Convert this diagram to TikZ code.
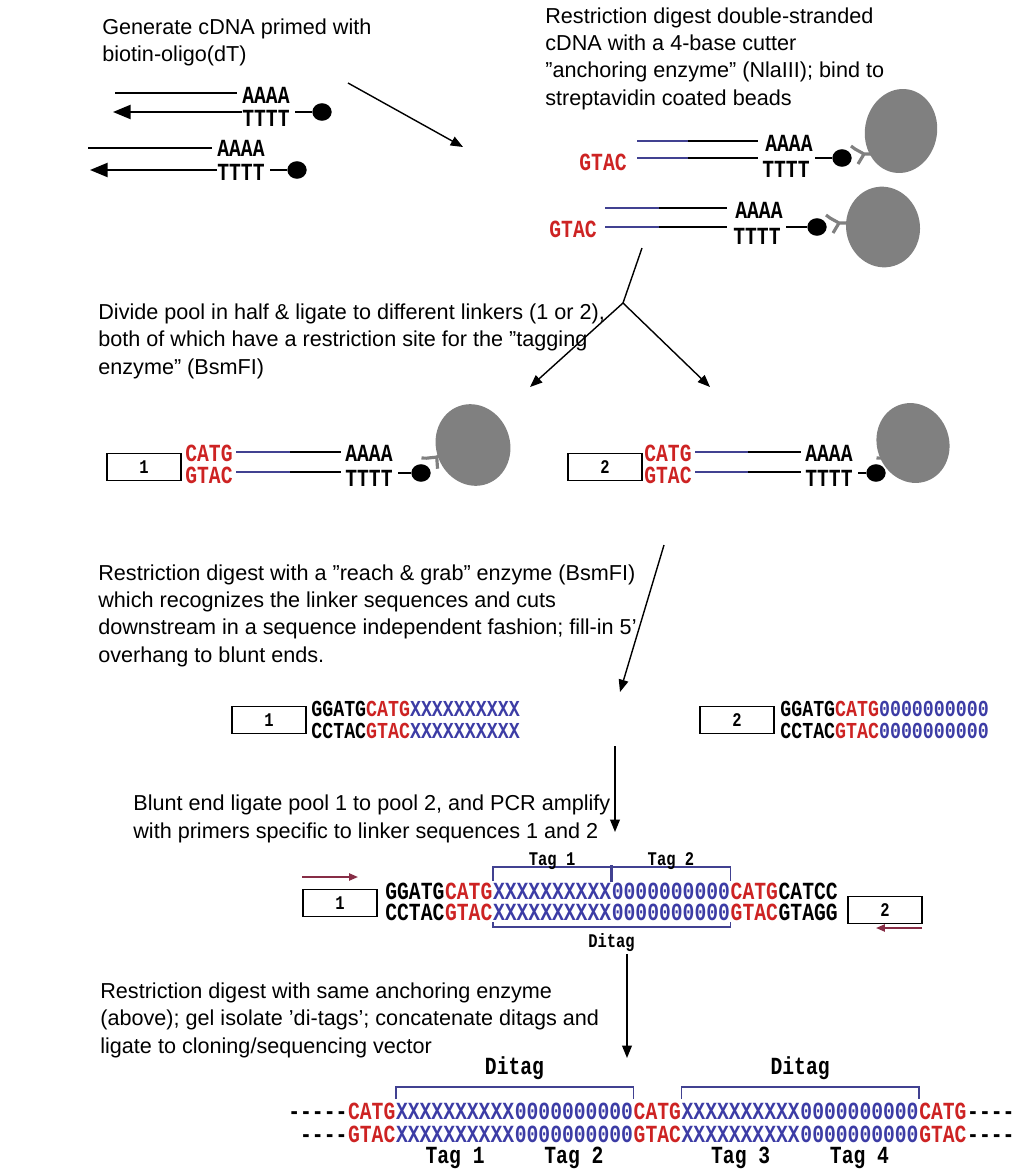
\documentclass[tikz,border=0pt]{standalone}
\usepackage{fontspec}
\setmainfont{Liberation Sans}
\newfontfamily\seqfont{Liberation Mono}[FakeStretch=0.8]
\usetikzlibrary{arrows.meta,positioning,shapes.geometric}

\definecolor{seqred}{RGB}{205,35,35}
\definecolor{seqblue}{RGB}{60,60,165}
\definecolor{linkblue}{RGB}{65,65,145}
\definecolor{beadgray}{RGB}{128,128,128}
\definecolor{primerred}{RGB}{135,45,70}

\newcommand{\seqdash}{-\kern0pt}

\tikzset{
  steptext/.style={anchor=base west,align=left,inner sep=0pt,
    font=\fontsize{12.3}{15.4}\selectfont},
  seq/.style={anchor=west,inner sep=0pt,text height=9.2pt,text depth=0pt,
    font=\seqfont\bfseries\fontsize{14}{14}\selectfont},
  seqsmall/.style={seq,text height=8.6pt,font=\seqfont\bfseries\fontsize{13}{13}\selectfont},
  taglabel/.style={inner sep=0pt,font=\seqfont\bfseries\fontsize{14}{14}\selectfont},
  smalllabel/.style={inner sep=0pt,font=\seqfont\bfseries\fontsize{11}{11}\selectfont},
  linkerbox/.style={draw,line width=0.7pt,minimum width=42pt,minimum height=15.5pt,
    inner sep=0pt,font=\seqfont\bfseries\fontsize{11}{11}\selectfont},
  biotin/.style={ellipse,fill=black,minimum width=11pt,minimum height=10pt,inner sep=0pt},
  bead/.style={ellipse,fill=beadgray,inner sep=0pt},
  strand/.style={line width=1.1pt},
  bluestrand/.style={line width=1.1pt,linkblue},
  flow/.style={line width=0.8pt,-{Triangle[length=7pt,width=5.5pt]}},
  bracket/.style={line width=0.9pt,linkblue},
  primer/.style={line width=1pt,primerred,-{Triangle[length=5pt,width=4pt]}},
  pics/antibody/.style={code={
    \draw[beadgray,line width=1.8pt,line join=round]
      (9,-12) -- (13,-9) -- (22,-4) -- (36,-4)
      (22,-4) -- (16,6);}}
}

\begin{document}
\begin{tikzpicture}[x=0.2mm,y=-0.2mm]
  \useasboundingbox (0,0) rectangle (1016,1169);

  % step descriptions (placed by the baseline of their last line)
  \node[steptext] (txt1) at (102,62) {Generate cDNA primed with\\biotin-oligo(dT)};
  \node[steptext] (txt2) at (545,105) {Restriction digest double-stranded\\cDNA with a 4-base cutter\\"anchoring enzyme" (NlaIII); bind to\\streptavidin coated beads};
  \node[steptext] (txt3) at (98,374) {Divide pool in half \& ligate to different linkers (1 or 2),\\both of which have a restriction site for the "tagging\\enzyme" (BsmFI)};
  \node[steptext] (txt4) at (98,662) {Restriction digest with a "reach \& grab" enzyme (BsmFI)\\which recognizes the linker sequences and cuts\\downstream in a sequence independent fashion; fill-in 5'\\overhang to blunt ends.};
  \node[steptext] (txt5) at (133,838) {Blunt end ligate pool 1 to pool 2, and PCR amplify\\with primers specific to linker sequences 1 and 2};
  \node[steptext] (txt6) at (100,1053) {Restriction digest with same anchoring enzyme\\(above); gel isolate 'di-tags'; concatenate ditags and\\ligate to cloning/sequencing vector};

  % cDNA with biotin-oligo(dT)
  \node[seq] (a1) at (242,95) {AAAA};
  \node[seq] (t1) at (242,118) {TTTT};
  \node[biotin] (d1) at (322,112) {};
  \coordinate (e1) at (115,93);
  \coordinate (e2) at (113,112);
  \draw[strand,shorten >=3pt] (e1) -- (e1 -| a1.west);
  \draw[strand,-{Triangle[length=10pt,width=8pt]}] (e2 -| t1.west) -- (e2);
  \draw[strand,shorten <=3pt] (t1.east |- d1) -- (d1);

  \node[seq] (a2) at (217,148) {AAAA};
  \node[seq] (t2) at (217,172) {TTTT};
  \node[biotin] (d2) at (297,170) {};
  \coordinate (e3) at (88,148);
  \coordinate (e4) at (90,170);
  \draw[strand,shorten >=3pt] (e3) -- (e3 -| a2.west);
  \draw[strand,-{Triangle[length=10pt,width=8pt]}] (e4 -| t2.west) -- (e4);
  \draw[strand,shorten <=3pt] (t2.east |- d2) -- (d2);

  \coordinate (f1) at (348,83);
  \coordinate (f2) at (463,147);
  \draw[flow] (f1) -- (f2);

  % digested cDNA on beads
  \node[seq,text=seqred,anchor=east] (g3) at (627,162) {GTAC};
  \node[seq] (a3) at (765,143) {AAAA};
  \node[seq] (t3) at (762,169) {TTTT};
  \node[biotin] (d3) at (842,158) {};
  \draw[bluestrand] (637,141) -- (688,141);
  \draw[strand] (688,141) -- (758,141);
  \draw[bluestrand] (637,158) -- (688,158);
  \draw[strand] (688,158) -- (758,158);
  \draw[strand,shorten <=3pt] (t3.east |- d3) -- (d3);
  \pic at (d3) {antibody};
  \node[bead,minimum width=41pt,minimum height=48pt,rotate=-10] (b3) at (901,131) {};

  \node[seq,text=seqred,anchor=east] (g4) at (597,229) {GTAC};
  \node[seq] (a4) at (735,210) {AAAA};
  \node[seq] (t4) at (733,236) {TTTT};
  \node[biotin] (d4) at (817,227) {};
  \draw[bluestrand] (605,208) -- (659,208);
  \draw[strand] (659,208) -- (727,208);
  \draw[bluestrand] (605,227) -- (659,227);
  \draw[strand] (659,227) -- (727,227);
  \draw[strand,shorten <=3pt] (t4.east |- d4) -- (d4);
  \pic at (d4) {antibody};
  \node[bead,minimum width=42pt,minimum height=46pt,rotate=10] (b4) at (883,227) {};

  \coordinate (y0) at (642,248);
  \coordinate (y1) at (623,303);
  \coordinate (y2) at (530,387);
  \coordinate (y3) at (710,387);
  \draw[line width=0.8pt] (y0) -- (y1);
  \draw[flow] (y1) -- (y2);
  \draw[flow] (y1) -- (y3);

  % linkers 1 and 2
  \node[linkerbox] (k1) at (144,467) {1};
  \node[seq,text=seqred] (c5) at (185,453) {CATG};
  \node[seq,text=seqred] (g5) at (185,475) {GTAC};
  \node[seq] (a5) at (345,453) {AAAA};
  \node[seq] (t5) at (345,478) {TTTT};
  \node[biotin] (d5) at (421,473) {};
  \draw[bluestrand] (236,452) -- (290,452);
  \draw[strand] (290,452) -- (341,452);
  \draw[bluestrand] (236,472) -- (290,472);
  \draw[strand] (290,472) -- (341,472);
  \draw[strand,shorten <=3pt] (t5.east |- d5) -- (d5);
  \pic[rotate=35] at (d5) {antibody};
  \node[bead,minimum width=42pt,minimum height=47pt,rotate=20] (b5) at (473,445) {};

  \node[linkerbox] (k2) at (605,467) {2};
  \node[seq,text=seqred] (c6) at (644,453) {CATG};
  \node[seq,text=seqred] (g6) at (644,475) {GTAC};
  \node[seq] (a6) at (805,453) {AAAA};
  \node[seq] (t6) at (805,478) {TTTT};
  \node[biotin] (d6) at (876,473) {};
  \draw[bluestrand] (695,452) -- (748,452);
  \draw[strand] (748,452) -- (801,452);
  \draw[bluestrand] (695,472) -- (748,472);
  \draw[strand] (748,472) -- (801,472);
  \draw[strand,shorten <=3pt] (t6.east |- d6) -- (d6);
  \pic[rotate=35] at (d6) {antibody};
  \node[bead,minimum width=41pt,minimum height=46pt,rotate=20] (b6) at (913,443) {};

  \coordinate (f3) at (664,545);
  \coordinate (f4) at (620,692);
  \draw[flow] (f3) -- (f4);

  % tags after BsmFI
  \node[linkerbox] (k3) at (269,720) {1};
  \node[seqsmall] (s1) at (311,709) {GGATG\textcolor{seqred}{CATG}\textcolor{seqblue}{XXXXXXXXXX}};
  \node[seqsmall] (s2) at (311,731) {CCTAC\textcolor{seqred}{GTAC}\textcolor{seqblue}{XXXXXXXXXX}};
  \node[linkerbox] (k4) at (737,720) {2};
  \node[seqsmall] (s3) at (780,709) {GGATG\textcolor{seqred}{CATG}\textcolor{seqblue}{0000000000}};
  \node[seqsmall] (s4) at (780,731) {CCTAC\textcolor{seqred}{GTAC}\textcolor{seqblue}{0000000000}};

  \coordinate (f5) at (615,746);
  \coordinate (f6) at (615,832);
  \draw[flow] (f5) -- (f6);

  % ditag after PCR
  \coordinate (r1) at (302,877);
  \coordinate (r2) at (358,877);
  \draw[primer] (r1) -- (r2);
  \node[linkerbox] (k5) at (340,903) {1};
  \node[seq] (p1) at (385,891) {GGATG};
  \node[seq,text=seqred] (p2) at (p1.east) {CATG};
  \node[seq,text=seqblue] (p3) at (p2.east) {XXXXXXXXXX};
  \node[seq,text=seqblue] (p4) at (p3.east) {0000000000};
  \node[seq,text=seqred] (p5) at (p4.east) {CATG};
  \node[seq] (p6) at (p5.east) {CATCC};
  \coordinate (rowq) at (0,912);
  \node[seq] (q1) at (p1.west |- rowq) {CCTAC};
  \node[seq,text=seqred] (q2) at (q1.east) {GTAC};
  \node[seq,text=seqblue] (q3) at (q2.east) {XXXXXXXXXX};
  \node[seq,text=seqblue] (q4) at (q3.east) {0000000000};
  \node[seq,text=seqred] (q5) at (q4.east) {GTAC};
  \node[seq] (q6) at (q5.east) {GTAGG};
  \node[linkerbox] (k6) at (885,910) {2};
  \coordinate (r3) at (922,928);
  \coordinate (r4) at (876,928);
  \draw[primer] (r3) -- (r4);

  \draw[bracket] ([yshift=1pt]p3.north west) -- ++(0,-14) -| ([yshift=1pt]p4.north east);
  \draw[bracket,line width=1.6pt] ([yshift=0.5pt]p3.north east) -- ([yshift=10pt]p3.north east);
  \node[smalllabel,anchor=base] at ([yshift=10pt]p3.north) {Tag 1};
  \node[smalllabel,anchor=base] at ([yshift=10pt]p4.north) {Tag 2};
  \draw[bracket] ([yshift=-1pt]q3.south west) -- ++(0,5)
    -| node[pos=0.25,below=3pt,smalllabel,text=black] {Ditag} ([yshift=-1pt]q4.south east);

  \coordinate (f7) at (627,954);
  \coordinate (f8) at (627,1058);
  \draw[flow] (f7) -- (f8);

  % concatenated ditags
  \node[seq] (u1) at (288,1111) {\seqdash\seqdash\seqdash\seqdash\seqdash};
  \node[seq,text=seqred] (u2) at (u1.east) {CATG};
  \node[seq,text=seqblue] (u3) at (u2.east) {XXXXXXXXXX};
  \node[seq,text=seqblue] (u4) at (u3.east) {0000000000};
  \node[seq,text=seqred] (u5) at (u4.east) {CATG};
  \node[seq,text=seqblue] (u6) at (u5.east) {XXXXXXXXXX};
  \node[seq,text=seqblue] (u7) at (u6.east) {0000000000};
  \node[seq,text=seqred] (u8) at (u7.east) {CATG};
  \node[seq] (u9) at (u8.east) {\seqdash\seqdash\seqdash\seqdash};
  \coordinate (rowv) at (0,1134);
  \node[seq,text=seqred] (v2) at (u2.west |- rowv) {GTAC};
  \node[seq,anchor=east] (v1) at (v2.west) {\seqdash\seqdash\seqdash\seqdash};
  \node[seq,text=seqblue] (v3) at (v2.east) {XXXXXXXXXX};
  \node[seq,text=seqblue] (v4) at (v3.east) {0000000000};
  \node[seq,text=seqred] (v5) at (v4.east) {GTAC};
  \node[seq,text=seqblue] (v6) at (v5.east) {XXXXXXXXXX};
  \node[seq,text=seqblue] (v7) at (v6.east) {0000000000};
  \node[seq,text=seqred] (v8) at (v7.east) {GTAC};
  \node[seq] (v9) at (v8.east) {\seqdash\seqdash\seqdash\seqdash};

  \draw[bracket] ([yshift=2pt]u3.north west) -- ++(0,-12)
    -| node[pos=0.25,above=4pt,taglabel,text=black] {Ditag} ([yshift=2pt]u4.north east);
  \draw[bracket] ([yshift=2pt]u6.north west) -- ++(0,-12)
    -| node[pos=0.25,above=4pt,taglabel,text=black] {Ditag} ([yshift=2pt]u7.north east);
  \node[taglabel,below=2.5pt of v3] {Tag 1};
  \node[taglabel,below=2.5pt of v4] {Tag 2};
  \node[taglabel,below=2.5pt of v6] {Tag 3};
  \node[taglabel,below=2.5pt of v7] {Tag 4};
\end{tikzpicture}
\end{document}
